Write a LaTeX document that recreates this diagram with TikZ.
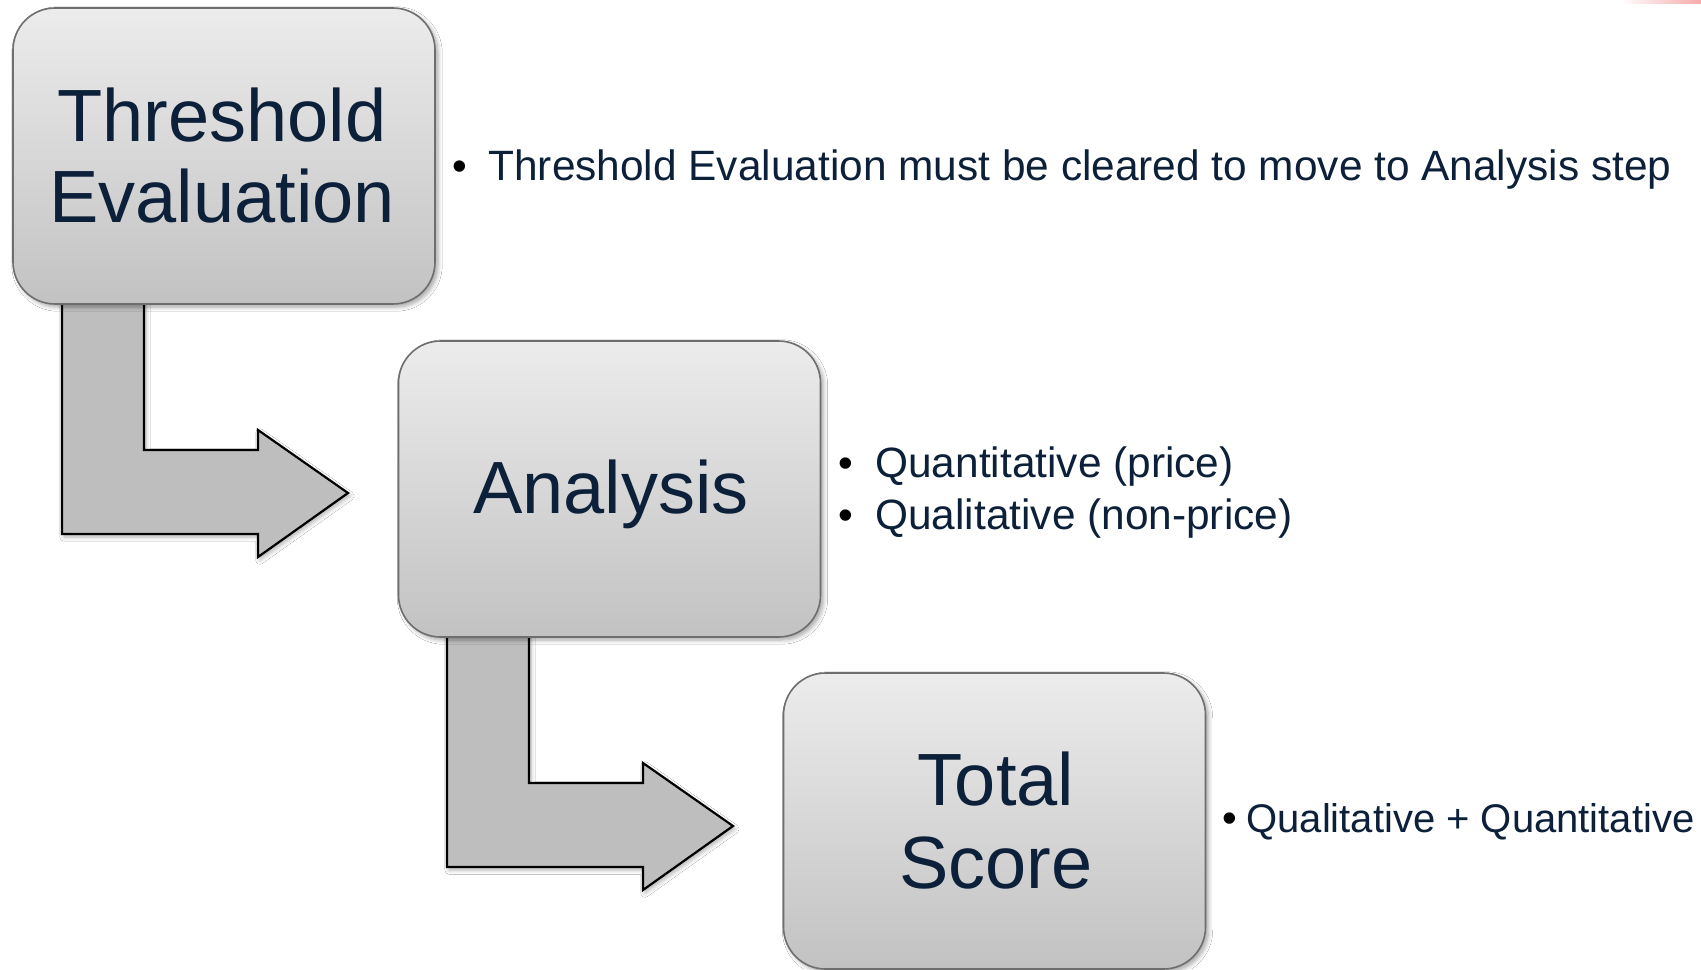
\documentclass[tikz,border=0pt]{standalone}
\usepackage{fontspec}
\setmainfont{Liberation Sans}
\usetikzlibrary{shadows.blur}
\definecolor{navy}{RGB}{12,32,57}
\definecolor{boxtop}{RGB}{236,236,236}
\definecolor{boxbot}{RGB}{194,194,194}
\definecolor{boxline}{RGB}{110,110,110}
\definecolor{arrowfill}{RGB}{190,190,190}
\definecolor{smudge}{RGB}{245,170,170}
\tikzset{
  stepbox/.style={draw=boxline, line width=0.8pt, rounded corners=21pt,
    top color=boxtop, bottom color=boxbot, minimum width=211pt, minimum height=148pt,
    inner sep=0pt, outer sep=0pt,
    blur shadow={shadow xshift=1.5pt, shadow yshift=-1.5pt, shadow blur steps=6, shadow opacity=35}},
  bigtext/.style={text=navy, font=\fontsize{37}{41}\selectfont, inner sep=0pt, anchor=base},
  bullettext/.style={text=navy, font=\fontsize{21.2}{25}\selectfont, inner sep=0pt, anchor=base west},
  smalltext/.style={text=navy, font=\fontsize{20}{24}\selectfont, inner sep=0pt, anchor=base west},
  dot/.style={text=black, font=\fontsize{21}{25}\selectfont, inner sep=0pt, anchor=base},
  bentarrow/.style={draw=black, line width=1.1pt, fill=arrowfill, line join=miter,
    blur shadow={shadow xshift=1pt, shadow yshift=-1.5pt, shadow blur steps=5, shadow opacity=30}}
}
\begin{document}
\begin{tikzpicture}[x=0.5pt, y=-0.5pt]
\useasboundingbox (0,0) rectangle (1701,969);
\fill[white] (0,0) rectangle (1701,969);
\shade[left color=white, right color=smudge] (1620,0) rectangle (1701,3);

% bent arrows (drawn under the boxes)
\draw[bentarrow] (62,300) -- (144,300) -- (144,450) -- (258,450) -- (258,430)
  -- (348,493) -- (258,557) -- (258,534) -- (62,534) -- cycle;
\draw[bentarrow] (447,633) -- (529,633) -- (529,783) -- (643,783) -- (643,763)
  -- (733,826) -- (643,890) -- (643,867) -- (447,867) -- cycle;

% boxes
\node[stepbox] (b1) at (224,156) {};
\node[stepbox] (b2) at (609.5,489) {};
\node[stepbox] (b3) at (994.5,821) {};

% box texts
\node[bigtext] (t1a) at (222,141) {Threshold};
\node[bigtext] (t1b) at (222,222) {Evaluation};
\node[bigtext] (t2) at (611,513) {Analysis};
\node[bigtext] (t3a) at (996,805) {Total};
\node[bigtext] (t3b) at (996,888) {Score};

% bullets
\node[dot] (d1) at (460,180) {•};
\node[bullettext] (l1) at (488,180) {Threshold Evaluation must be cleared to move to Analysis step};
\node[dot] (d2) at (846,477) {•};
\node[bullettext] (l2) at (875,477) {Quantitative (price)};
\node[dot] (d3) at (846,529) {•};
\node[bullettext] (l3) at (875,529) {Qualitative (non-price)};
\node[dot] (d4) at (1230,832) {•};
\node[smalltext] (l4) at (1246,832) {Qualitative + Quantitative};
\end{tikzpicture}
\end{document}
